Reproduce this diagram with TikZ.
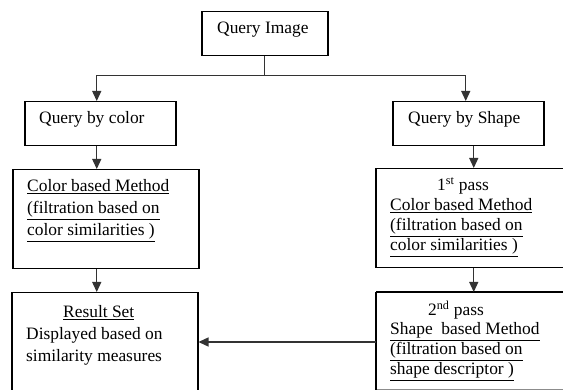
\documentclass[tikz,border=0pt]{standalone}
\usepackage{fontspec}
\setmainfont{Liberation Serif}
\usetikzlibrary{arrows.meta}
\begin{document}
\begin{tikzpicture}[x=1pt,y=-1pt,
  box/.style={draw=black,line width=1.5pt,rectangle,anchor=north west,inner sep=0pt},
  txt/.style={anchor=base west,inner sep=0pt,font=\fontsize{17.4}{20}\selectfont},
  link/.style={draw=black!80,line width=1.3pt},
  arr/.style={link,-{Triangle[length=10pt,width=9pt]}}]
\useasboundingbox (0,0) rectangle (563,390);
\clip (0,0) rectangle (563,390);

% boxes
\node[box,minimum width=126pt,minimum height=44pt] (qi) at (201,11) {};
\node[box,minimum width=151pt,minimum height=44pt] (qc) at (24,101) {};
\node[box,minimum width=151pt,minimum height=44pt] (qs) at (392,101) {};
\node[box,minimum width=186pt,minimum height=99pt] (cm) at (12,169) {};
\node[box,minimum width=196pt,minimum height=99pt] (p1) at (375,168) {};
\node[box,minimum width=186pt,minimum height=105pt] (rs) at (11,292) {};
\node[box,minimum width=196pt,minimum height=97pt,draw=black!45,line width=1pt] (p2) at (376,292) {};
\draw[black,line width=1.5pt] (p2.north west) -- (p2.north east);
\draw[black,line width=1.5pt] (p2.north west) -- (p2.south west);

% labels
\node[txt] (tqi) at (217,34) {Query Image};
\node[txt] (tqc) at (39,124) {Query by color};
\node[txt] (tqs) at (408,124) {Query by Shape};

\node[txt] (tcm1) at (27,192) {\underline{Color based Method}};
\node[txt] (tcm2) at (27,214) {\underline{(filtration based on}};
\node[txt] (tcm3) at (27,236) {\underline{color similarities )}};

\node[txt] (tp11) at (437,191) {1\textsuperscript{st} pass};
\node[txt] (tp12) at (390,211) {\underline{Color based Method}};
\node[txt] (tp13) at (390,231) {\underline{(filtration based on}};
\node[txt] (tp14) at (390,251) {\underline{color similarities )}};

\node[txt] (trs1) at (63,318) {\underline{Result Set}};
\node[txt] (trs2) at (26,340) {Displayed based on};
\node[txt] (trs3) at (26,362) {similarity measures};

\node[txt] (tp21) at (428,316) {2\textsuperscript{nd} pass};
\node[txt] (tp22) at (390,335) {\underline{Shape\ \ based Method}};
\node[txt] (tp23) at (390,355) {\underline{(filtration based on}};
\node[txt] (tp24) at (390,375) {\underline{shape descriptor )}};

% connectors
\coordinate (split) at ([yshift=-19pt]qi.south);
\coordinate (back) at (376,342);
\draw[link] (qi.south) -- (split);
\draw[arr] (split) -| ([xshift=-3.5pt]qc.north);
\draw[arr] (split) -| ([xshift=-2.5pt]qs.north);
\draw[arr] ([xshift=-3.5pt]qc.south) -- ([xshift=-3.5pt]qc.south |- cm.north);
\draw[arr] ([xshift=-9pt]cm.south) -- ([xshift=-9pt]cm.south |- rs.north);
\draw[arr] ([xshift=5.5pt]qs.south) -- ([xshift=5.5pt]qs.south |- p1.north);
\draw[arr] (p1.south) -- (p1.south |- p2.north);
\draw[arr] (back) -- (back -| rs.east);
\end{tikzpicture}
\end{document}
